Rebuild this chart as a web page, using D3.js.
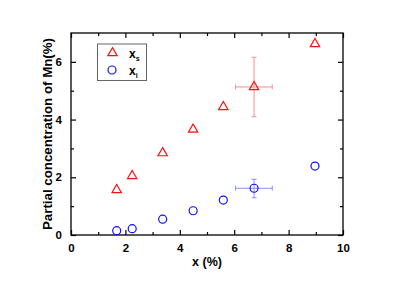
<!DOCTYPE html>
<html><head><meta charset="utf-8">
<script src="https://cdn.jsdelivr.net/npm/d3@7"></script>
<style>body{margin:0;background:#fff}svg{display:block}text{font-family:Arial,"Liberation Sans",sans-serif;font-weight:bold}</style>
</head><body><svg id="c" width="399" height="282"></svg>
<script>
const xs = [1.68, 2.25, 3.37, 4.49, 5.6, 6.73, 8.97];
const seriesS = [1.56, 2.05, 2.84, 3.66, 4.44, 5.13, 6.62];
const seriesI = [0.15, 0.22, 0.55, 0.84, 1.21, 1.62, 2.39];
const errS = [{x: 6.73, y: 5.13, xlo: 6.05, xhi: 7.4, ylo: 4.1, yhi: 6.16}];
const errI = [{x: 6.73, y: 1.62, xlo: 6.05, xhi: 7.4, ylo: 1.29, yhi: 1.93}];
const xTicks = [0, 2, 4, 6, 8, 10];
const yTicks = [0, 2, 4, 6];

const svg = d3.select("#c");
const L = 71, R = 343, T = 33, B = 235;
const x = d3.scaleLinear().domain([0, 10]).range([L, R]);
const y = d3.scaleLinear().domain([0, 7]).range([B, T]);

svg.append("rect").attr("x", L).attr("y", T).attr("width", R - L).attr("height", B - T)
  .attr("fill", "none").attr("stroke", "#000").attr("stroke-width", 1.3);

const xMinor = d3.range(1, 10, 2), yMinor = d3.range(1, 7, 2);
function styleAxis(g) {
  g.select(".domain").remove();
  g.selectAll("line").attr("stroke", "#000").attr("stroke-width", 1.2);
  g.selectAll("text").attr("font-size", 11.5).attr("fill", "#000").attr("font-weight", "bold")
    .attr("font-family", "Arial, Liberation Sans, sans-serif");
}
function addAxis(axisFn, scale, pos, vals, size, labels) {
  const g = svg.append("g").attr("transform", pos);
  const a = axisFn(scale).tickValues(vals).tickSize(-size).tickPadding(9);
  a.tickFormat(labels ? d3.format("d") : () => "");
  g.call(a);
  styleAxis(g);
}
addAxis(d3.axisBottom, x, `translate(0,${B})`, xTicks, 5, true);
addAxis(d3.axisBottom, x, `translate(0,${B})`, xMinor, 3, false);
addAxis(d3.axisTop, x, `translate(0,${T})`, xTicks, 5, false);
addAxis(d3.axisTop, x, `translate(0,${T})`, xMinor, 3, false);
addAxis(d3.axisLeft, y, `translate(${L},0)`, yTicks, 5, true);
addAxis(d3.axisLeft, y, `translate(${L},0)`, yMinor, 3, false);
addAxis(d3.axisRight, y, `translate(${R},0)`, yTicks, 5, false);
addAxis(d3.axisRight, y, `translate(${R},0)`, yMinor, 3, false);

svg.append("text").attr("x", (L + R) / 2).attr("y", 266).attr("text-anchor", "middle")
  .attr("font-size", 12.5).text("x (%)");
svg.append("text").attr("transform", `translate(52,${(T + B) / 2}) rotate(-90)`).attr("text-anchor", "middle")
  .attr("font-size", 13.3).text("Partial concentration of Mn(%)");

function errBars(data, color) {
  const g = svg.append("g").attr("stroke", color).attr("stroke-width", 1).attr("opacity", 0.55);
  data.forEach(d => {
    g.append("line").attr("x1", x(d.x)).attr("x2", x(d.x)).attr("y1", y(d.ylo)).attr("y2", y(d.yhi));
    g.append("line").attr("x1", x(d.xlo)).attr("x2", x(d.xhi)).attr("y1", y(d.y)).attr("y2", y(d.y));
    [d.ylo, d.yhi].forEach(v => g.append("line").attr("x1", x(d.x) - 2.5).attr("x2", x(d.x) + 2.5).attr("y1", y(v)).attr("y2", y(v)));
    [d.xlo, d.xhi].forEach(v => g.append("line").attr("x1", x(v)).attr("x2", x(v)).attr("y1", y(d.y) - 2.5).attr("y2", y(d.y) + 2.5));
  });
}
errBars(errS, "#ff3030");
errBars(errI, "#3030ff");

const tri = d3.symbol().type(d3.symbolTriangle).size(38);
svg.append("g").selectAll("path").data(xs).join("path")
  .attr("d", tri).attr("transform", (d, i) => `translate(${x(d)},${y(seriesS[i])})`)
  .attr("fill", "none").attr("stroke", "#ff1010").attr("stroke-width", 1.2);
svg.append("g").selectAll("circle").data(xs).join("circle")
  .attr("cx", d => x(d)).attr("cy", (d, i) => y(seriesI[i])).attr("r", 4)
  .attr("fill", "none").attr("stroke", "#1010ff").attr("stroke-width", 1.2);

svg.append("rect").attr("x", 97.5).attr("y", 44).attr("width", 49).attr("height", 36.5)
  .attr("fill", "none").attr("stroke", "#666").attr("stroke-width", 1);
svg.append("path").attr("d", tri).attr("transform", "translate(112.5,53)")
  .attr("fill", "none").attr("stroke", "#ff1010").attr("stroke-width", 1.2);
svg.append("circle").attr("cx", 112).attr("cy", 70).attr("r", 4)
  .attr("fill", "none").attr("stroke", "#1010ff").attr("stroke-width", 1.2);
const l1 = svg.append("text").attr("x", 129).attr("y", 58).attr("font-size", 12);
l1.append("tspan").text("x");
l1.append("tspan").attr("dy", 3).attr("font-size", 7).text("s");
const l2 = svg.append("text").attr("x", 129).attr("y", 75).attr("font-size", 12);
l2.append("tspan").text("x");
l2.append("tspan").attr("dy", 3).attr("font-size", 7).text("i");
</script></body></html>
